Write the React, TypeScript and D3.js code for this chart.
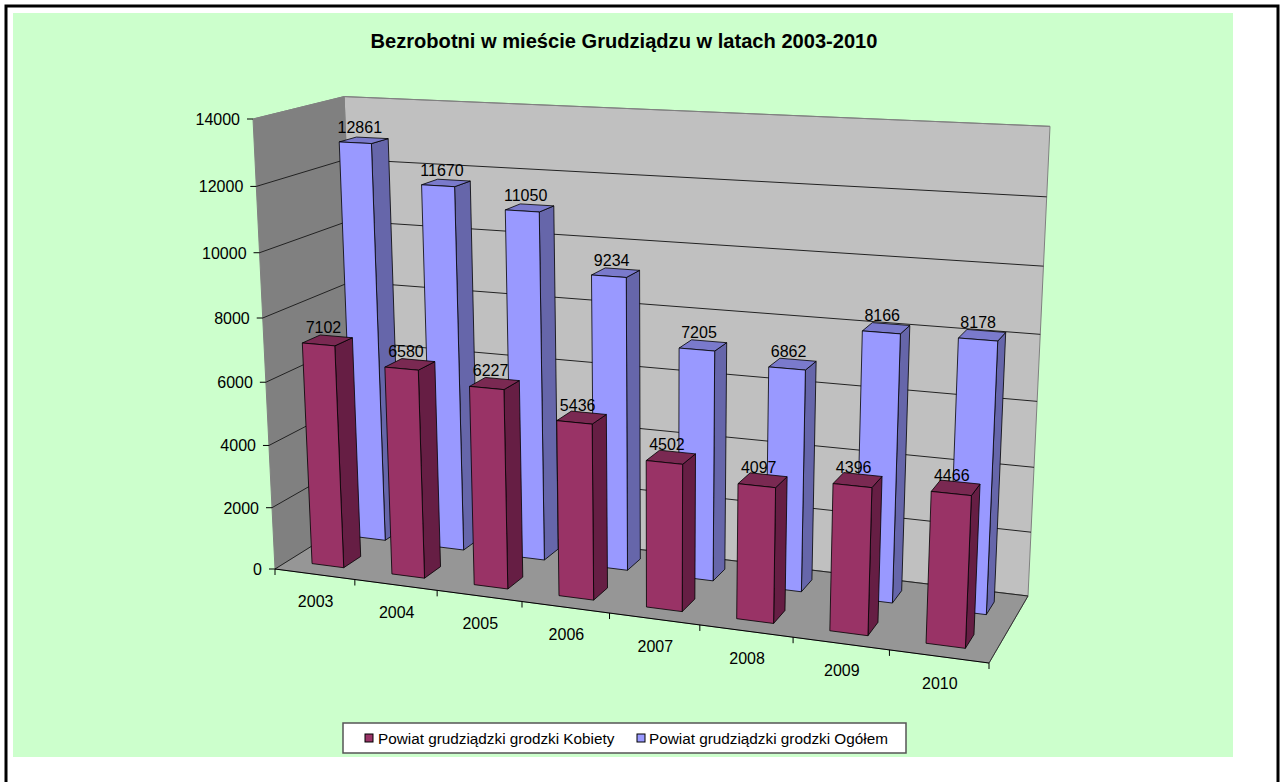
import * as d3 from "d3";

const years = ["2003", "2004", "2005", "2006", "2007", "2008", "2009", "2010"];
const kobiety = [7102, 6580, 6227, 5436, 4502, 4097, 4396, 4466];
const ogolem = [12861, 11670, 11050, 9234, 7205, 6862, 8166, 8178];
const yTicks = [0, 2000, 4000, 6000, 8000, 10000, 12000, 14000];
const title = "Bezrobotni w mieście Grudziądzu w latach 2003-2010";
const legendNames = ["Powiat grudziądzki grodzki Kobiety", "Powiat grudziądzki grodzki Ogółem"];

const font = "'Liberation Sans', Arial, sans-serif";

type P = [number, number];

// corners of the 3d box on screen
const O: P = [275, 569]; // front left bottom
const U: P = [989, 663]; // front right bottom
const F: P = [1028, 596]; // back right bottom
const V: P = [360, 516]; // back left bottom
const W: P = [253, 119]; // front left top
const E: P = [1050, 131]; // back right top

// floor homography from the unit square
const dx1 = U[0] - F[0];
const dx2 = V[0] - F[0];
const sx = O[0] - U[0] + F[0] - V[0];
const dy1 = U[1] - F[1];
const dy2 = V[1] - F[1];
const sy = O[1] - U[1] + F[1] - V[1];
const den = dx1 * dy2 - dx2 * dy1;
const g = (sx * dy2 - dx2 * sy) / den;
const h = (dx1 * sy - sx * dy1) / den;
const p1 = [U[0] - O[0] + g * U[0], U[1] - O[1] + g * U[1], g];
const p2 = [V[0] - O[0] + h * V[0], V[1] - O[1] + h * V[1], h];
const p4 = [O[0], O[1], 1];

// height column, so that w=1 hits W and the far corner lands on E
const lambda = (E[0] * (p1[2] + p2[2]) - (p1[0] + p2[0])) / (W[0] - E[0]);
const p3 = [lambda * W[0] - p4[0], lambda * W[1] - p4[1], lambda - 1];

function project(u: number, v: number, w: number): P {
  const t = p1[2] * u + p2[2] * v + p3[2] * w + p4[2];
  return [
    (p1[0] * u + p2[0] * v + p3[0] * w + p4[0]) / t,
    (p1[1] * u + p2[1] * v + p3[1] * w + p4[1]) / t,
  ];
}

const xBand = d3.scaleBand<string>().domain(years).range([0, 1]);
const yScale = d3.scaleLinear().domain([0, 14000]).range([0, 1]);
const line = d3.line<P>().x((d) => d[0]).y((d) => d[1]);
const poly = (pts: P[]) => line(pts) + "Z";

const barShare = 0.4;
const rows = [
  { name: legendNames[1], values: ogolem, v0: 0.65, v1: 0.85, face: "#9999ff", side: "#6666aa", top: "#7a7acc" },
  { name: legendNames[0], values: kobiety, v0: 0.15, v1: 0.35, face: "#993366", side: "#661e44", top: "#7a2952" },
];

export default function App() {
  const step = xBand.step();
  return (
    <svg
      width={1280}
      height={782}
      style={{ position: "absolute", left: 0, top: 0, background: "#fff" }}
      fontFamily={font}
    >
      <path d="M6,782V6H1278V782" fill="none" stroke="#000" strokeWidth={3} />
      <rect x={13} y={13} width={1220} height={744} fill="#ccffcc" />
      <text x={624} y={48} textAnchor="middle" fontSize={20.1} fontWeight="bold" fill="#000">
        {title}
      </text>

      {/* walls and floor */}
      <path d={poly([project(0, 1, 0), project(1, 1, 0), project(1, 1, 1), project(0, 1, 1)])} fill="#c0c0c0" stroke="#808080" />
      <path d={poly([project(0, 0, 0), project(0, 1, 0), project(0, 1, 1), project(0, 0, 1)])} fill="#808080" stroke="#808080" />
      <path d={poly([project(0, 0, 0), project(1, 0, 0), project(1, 1, 0), project(0, 1, 0)])} fill="#969696" stroke="#808080" />

      {/* grid */}
      {yTicks.map((t) => (
        <path
          key={t}
          d={line([project(0, 0, yScale(t)), project(0, 1, yScale(t)), project(1, 1, yScale(t))]) ?? ""}
          fill="none"
          stroke={t === 14000 ? "#808080" : "#222"}
          strokeWidth={1}
        />
      ))}

      {/* axes */}
      <path d={line([project(0, 0, 0), project(1, 0, 0)]) ?? ""} stroke="#000" fill="none" />
      <path d={line([project(1, 0, 0), project(1, 1, 0)]) ?? ""} stroke="#333" fill="none" />
      {yTicks.map((t) => {
        const [x, y] = project(0, 0, yScale(t));
        return (
          <g key={t}>
            <line x1={x - 6} x2={x} y1={y} y2={y} stroke="#000" />
            <text x={x - 13} y={y + 6} textAnchor="end" fontSize={16} fill="#000">
              {t}
            </text>
          </g>
        );
      })}
      {d3.range(years.length + 1).map((i) => {
        const [x, y] = project(i * step, 0, 0);
        return <line key={i} x1={x} x2={x} y1={y} y2={y + 6} stroke="#000" />;
      })}
      {years.map((yr) => {
        const [x, y] = project((xBand(yr) ?? 0) + step / 2, 0, 0);
        return (
          <text key={yr} x={x + 1} y={y + 33} textAnchor="middle" fontSize={16} fill="#000">
            {yr}
          </text>
        );
      })}

      {/* bars, back row first */}
      {rows.map((row) =>
        row.values.map((val, i) => {
          const u0 = (xBand(years[i]) ?? 0) + (step * (1 - barShare)) / 2;
          const u1 = u0 + step * barShare;
          const z = yScale(val);
          return (
            <g key={row.name + i} stroke="#000" strokeWidth={0.8} strokeLinejoin="round">
              <path d={poly([project(u1, row.v0, 0), project(u1, row.v1, 0), project(u1, row.v1, z), project(u1, row.v0, z)])} fill={row.side} />
              <path d={poly([project(u0, row.v0, z), project(u1, row.v0, z), project(u1, row.v1, z), project(u0, row.v1, z)])} fill={row.top} />
              <path d={poly([project(u0, row.v0, 0), project(u1, row.v0, 0), project(u1, row.v0, z), project(u0, row.v0, z)])} fill={row.face} />
            </g>
          );
        })
      )}

      {/* data labels */}
      {rows.map((row) =>
        row.values.map((val, i) => {
          const um = (xBand(years[i]) ?? 0) + step / 2;
          const [x, y] = project(um, (row.v0 + row.v1) / 2, yScale(val));
          return (
            <text key={row.name + i} x={x - 4} y={y - 7} textAnchor="middle" fontSize={16} fill="#000">
              {val}
            </text>
          );
        })
      )}

      {/* legend */}
      <rect x={343} y={723} width={563} height={30} fill="#fff" stroke="#555" strokeWidth={1.5} />
      <rect x={365} y={734} width={8} height={8} fill="#993366" stroke="#000" />
      <text x={378} y={744} fontSize={15.3} fill="#000">{legendNames[0]}</text>
      <rect x={637} y={734} width={8} height={8} fill="#9999ff" stroke="#000" />
      <text x={649} y={744} fontSize={15.3} fill="#000">{legendNames[1]}</text>
    </svg>
  );
}
